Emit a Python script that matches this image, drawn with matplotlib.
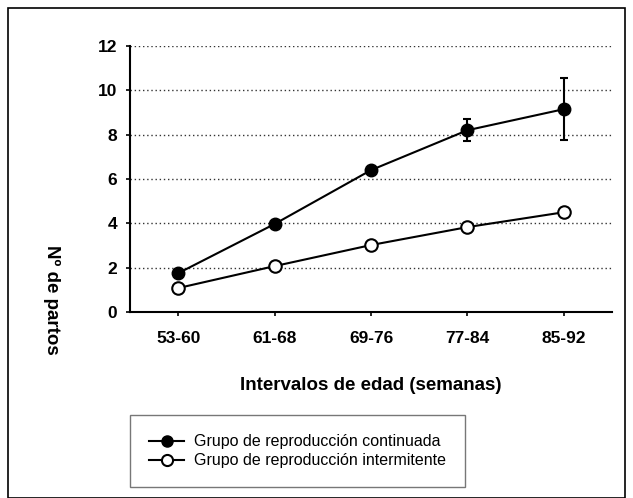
import matplotlib
matplotlib.use("Agg")
import matplotlib.pyplot as plt
from matplotlib.patches import Rectangle
from matplotlib.lines import Line2D

categories = ["53-60", "61-68", "69-76", "77-84", "85-92"]
continuada = [1.75, 3.97, 6.4, 8.2, 9.15]
continuada_err = [0.0, 0.0, 0.0, 0.5, 1.4]
intermitente = [1.08, 2.07, 3.02, 3.83, 4.5]
yticks = [0, 2, 4, 6, 8, 10, 12]

plt.rcParams['font.family'] = ['Liberation Sans', 'DejaVu Sans']

fig = plt.figure(figsize=(6.33, 4.98), dpi=100)
fig.patches.append(Rectangle((8/633, 0.0), (625-8)/633, 1 - 8/498,
                             transform=fig.transFigure, fill=False,
                             edgecolor='black', linewidth=1.2))

ax = fig.add_axes([130/633, 1 - 312/498, (612-130)/633, (312-46)/498])
x = list(range(len(categories)))

ax.errorbar(x, continuada, yerr=continuada_err, color='black', marker='o',
            markersize=9, markerfacecolor='black', markeredgecolor='black',
            linewidth=1.5, elinewidth=1.5, capsize=3, capthick=1.5, zorder=3)
ax.plot(x, intermitente, color='black', marker='o', markersize=9,
        markerfacecolor='white', markeredgecolor='black', markeredgewidth=1.5,
        linewidth=1.5, zorder=3)

ax.set_xlim(-0.5, 4.5)
ax.set_ylim(0, 12)
ax.set_yticks(yticks)
ax.set_xticks(x)
ax.set_xticklabels(categories)
for t in yticks[1:]:
    ax.axhline(t, color='#333333', linestyle=(0, (1, 2)), linewidth=1.0, zorder=1)

ax.spines['top'].set_visible(False)
ax.spines['right'].set_visible(False)
ax.spines['left'].set_linewidth(1.5)
ax.spines['bottom'].set_linewidth(1.5)
ax.tick_params(axis='both', direction='out', length=3, width=1.2,
               labelsize=12.5)
for lbl in ax.get_xticklabels() + ax.get_yticklabels():
    lbl.set_fontweight('bold')
ax.tick_params(axis='x', pad=11)
ax.tick_params(axis='y', pad=6)

ax.set_xlabel('Intervalos de edad (semanas)', fontsize=13.5, fontweight='bold',
              labelpad=22)
fig.text(52/633, 1 - 300/498, 'Nº de partos', rotation=270, fontsize=13.5,
         fontweight='bold', ha='center', va='center')

handles = [
    Line2D([], [], color='black', marker='o', markersize=8,
           markerfacecolor='black', linewidth=1.5),
    Line2D([], [], color='black', marker='o', markersize=8,
           markerfacecolor='white', markeredgewidth=1.5, linewidth=1.5),
]
labels = ['Grupo de reproducción continuada', 'Grupo de reproducción intermitente']
leg = fig.legend(handles, labels, loc='upper left',
                 bbox_to_anchor=(130/633, 1 - 415/498),
                 fontsize=11.5, frameon=True, fancybox=False,
                 edgecolor='#555555', handlelength=2.2, borderpad=1.2,
                 labelspacing=0.25, handletextpad=0.6, borderaxespad=0)
leg.get_frame().set_linewidth(1.0)

fig.savefig('out.png', dpi=100)
